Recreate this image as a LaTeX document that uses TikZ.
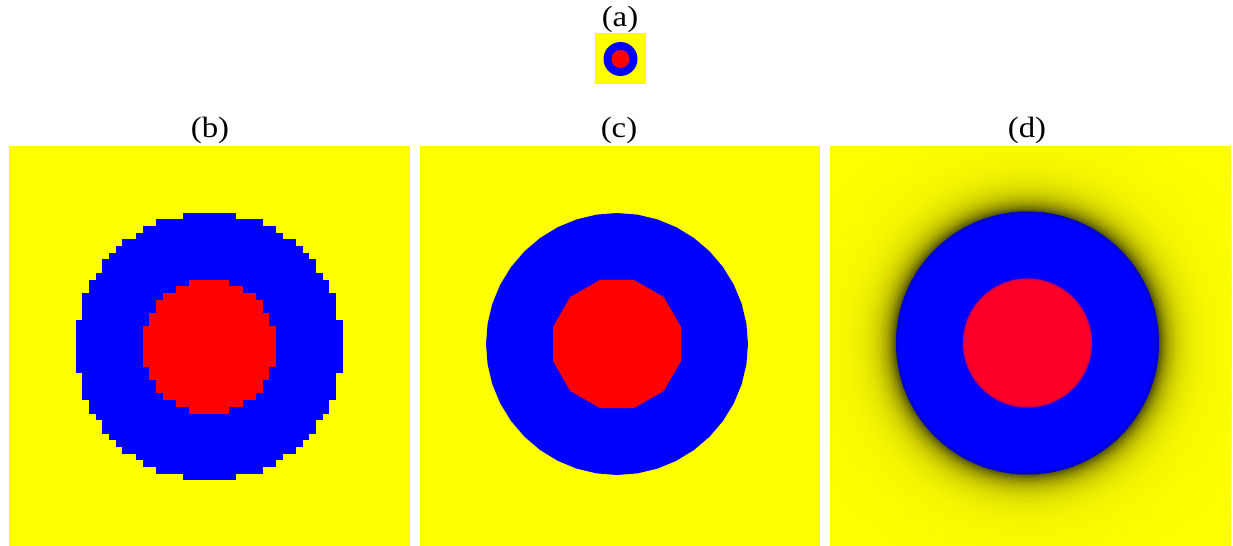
\documentclass[tikz,border=0pt]{standalone}
\usepackage{fontspec}
\setmainfont{Liberation Serif}
\definecolor{yel}{RGB}{255,255,0}
\definecolor{blu}{RGB}{0,0,255}
\definecolor{rd}{RGB}{255,0,0}
\definecolor{rdd}{RGB}{252,0,40}
\begin{document}
\begin{tikzpicture}[x=0.75pt,y=-0.75pt,
  lab/.style={inner sep=0pt,font=\fontsize{22}{24}\selectfont,xscale=1.12},
  panel/.style={fill=yel}]
\useasboundingbox (0,0) rectangle (1233,546);
% labels
\node[lab] (la) at (620,19) {(a)};
\node[lab] (lb) at (210,130) {(b)};
\node[lab] (lc) at (619,130) {(c)};
\node[lab] (ld) at (1027,130) {(d)};
% (a) small picture
\fill[panel] (595,33) rectangle (646,84);
\fill[blu] (620.5,59) circle (17);
\fill[rd] (620.5,59) circle (9);
% (b) pixelated
\fill[panel] (9,146) rectangle (410,546);
\def\bx{9}\def\by{146}\def\cs{6.675}
\foreach \j in {10,...,49}{
  \pgfmathtruncatemacro\n{floor(sqrt(400-(\j-29.5)*(\j-29.5))+0.5)}
  \fill[blu] ({\bx+(30-\n)*\cs},{\by+\j*\cs}) rectangle ({\bx+(30+\n)*\cs},{\by+(\j+1)*\cs+0.5});
}
\foreach \j in {20,...,39}{
  \pgfmathtruncatemacro\n{floor(sqrt(100-(\j-29.5)*(\j-29.5))+0.5)}
  \fill[rd] ({\bx+(30-\n)*\cs},{\by+\j*\cs}) rectangle ({\bx+(30+\n)*\cs},{\by+(\j+1)*\cs+0.5});
}
% (c) smooth
\fill[panel] (420,146) rectangle (820,546);
\begin{scope}[shift={(617,344)}]
  \fill[blu] plot[domain=0:360,samples=41] ({131*cos(\x)},{131*sin(\x)}) -- cycle;
  \fill[rd] (15:66.26) -- (45:66.26) -- (75:66.26) -- (105:66.26) -- (135:66.26) -- (165:66.26) -- (195:66.26) -- (225:66.26) -- (255:66.26) -- (285:66.26) -- (315:66.26) -- (345:66.26) -- cycle;
\end{scope}
% (d) blurred
\fill[panel] (830,146) rectangle (1231,546);
\begin{scope}
  \clip (830,146) rectangle (1231,546);
  \foreach \r in {280,275,...,175,172,170,168,...,132}{
    \pgfmathsetmacro\p{100*(1-0.62*exp(-(\r-132)/12)-0.09*exp(-(\r-132)/40))}
    \fill[yel!\p!black] (1027.5,343) circle (\r);
  }
\end{scope}
\fill[blu] (1027.5,343) circle (131.5);
\draw[black,opacity=0.15,line width=2pt] (1027.5,343) circle (130);
\fill[rdd] (1027.5,343) circle (64.5);
\draw[rdd!60!blu,opacity=0.4,line width=1.5pt] (1027.5,343) circle (64);
\end{tikzpicture}
\end{document}
